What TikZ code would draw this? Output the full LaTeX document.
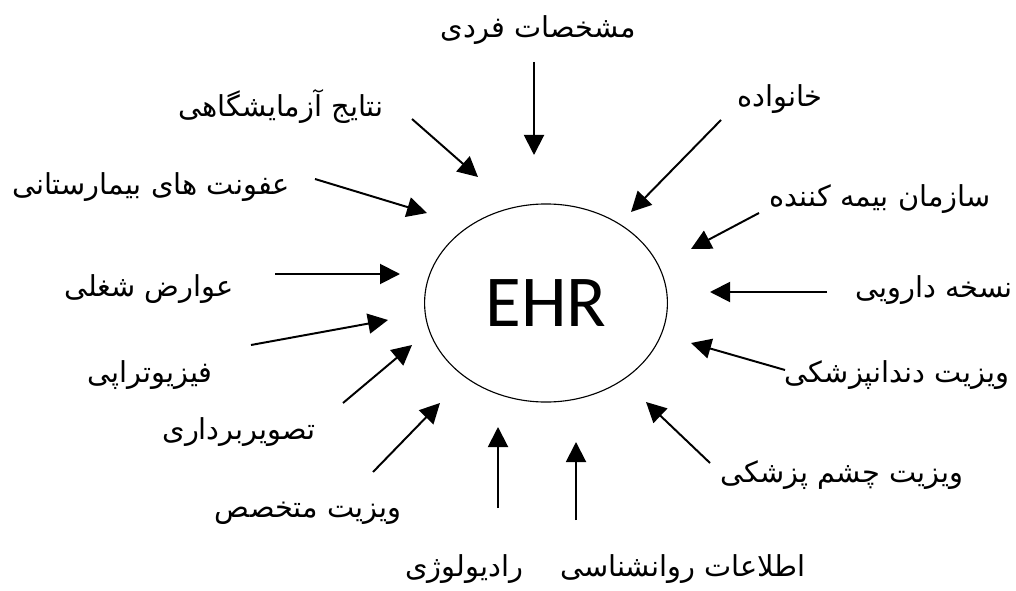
\documentclass[tikz,border=0pt]{standalone}
\usepackage{fontspec}
\usetikzlibrary{positioning, arrows.meta, shapes.geometric}
\newfontfamily\arabicfont[Script=Arabic]{DejaVu Sans}
\newfontfamily\hubfont{Carlito}
\TeXXeTstate=1
\newcommand{\fatext}[1]{\arabicfont\beginR #1\endR}
\tikzset{
  hub/.style={draw, ellipse, line width=0.8pt, minimum width=6.07cm, minimum height=4.95cm, inner sep=0pt, font=\hubfont\fontsize{52}{56}\selectfont},
  src/.style={inner sep=0pt, font=\fontsize{20.5}{24}\selectfont},
  arr/.style={-{Triangle[length=5mm, width=5mm]}, line width=1.4pt}
}
\begin{document}
\begin{tikzpicture}[x=0.025cm, y=-0.025cm]
\useasboundingbox (0,0) rectangle (1016,590);
\node[hub] (ehr) at (546,303) {EHR};
% sources
\node[src] (personal) at (538,30) {\fatext{مشخصات فردی}};
\node[src] (family) at (780,99) {\fatext{خانواده}};
\node[src] (insurance) at (880,199) {\fatext{سازمان بیمه کننده}};
\node[src] (prescription) at (934,290) {\fatext{نسخه دارویی}};
\node[src] (dental) at (897,375) {\fatext{ویزیت دندانپزشکی}};
\node[src] (eye) at (842,475) {\fatext{ویزیت چشم پزشکی}};
\node[src] (psych) at (683,569) {\fatext{اطلاعات روانشناسی}};
\node[src] (radiology) at (464,569) {\fatext{رادیولوژی}};
\node[src] (specialist) at (308,513) {\fatext{ویزیت متخصص}};
\node[src] (imaging) at (239,432) {\fatext{تصویربرداری}};
\node[src] (physio) at (150,375) {\fatext{فیزیوتراپی}};
\node[src] (occupational) at (149,289) {\fatext{عوارض شغلی}};
\node[src] (infection) at (151,187) {\fatext{عفونت های بیمارستانی}};
\node[src] (lab) at (281,106) {\fatext{نتایج آزمایشگاهی}};
% arrow ends
\coordinate (personal-a) at (534,62);     \coordinate (personal-b) at (534,155);
\coordinate (family-a) at (721,120);      \coordinate (family-b) at (631,212);
\coordinate (insurance-a) at (759,213);   \coordinate (insurance-b) at (691,249);
\coordinate (prescription-a) at (827,292);\coordinate (prescription-b) at (710,292);
\coordinate (dental-a) at (785,370);      \coordinate (dental-b) at (691,343);
\coordinate (eye-a) at (710,463);         \coordinate (eye-b) at (646,402);
\coordinate (psych-a) at (576,520);       \coordinate (psych-b) at (576,442);
\coordinate (radiology-a) at (498,508);   \coordinate (radiology-b) at (498,427);
\coordinate (specialist-a) at (373,472);  \coordinate (specialist-b) at (440,403);
\coordinate (imaging-a) at (343,403);     \coordinate (imaging-b) at (412,345);
\coordinate (physio-a) at (251,345);      \coordinate (physio-b) at (388,320);
\coordinate (occupational-a) at (275,274);\coordinate (occupational-b) at (400,274);
\coordinate (infection-a) at (315,179);   \coordinate (infection-b) at (427,213);
\coordinate (lab-a) at (412,119);         \coordinate (lab-b) at (478,177);
\foreach \s in {personal, family, insurance, prescription, dental, eye, psych, radiology, specialist, imaging, physio, occupational, infection, lab}
  \draw[arr] (\s-a) -- (\s-b);
\end{tikzpicture}
\end{document}
